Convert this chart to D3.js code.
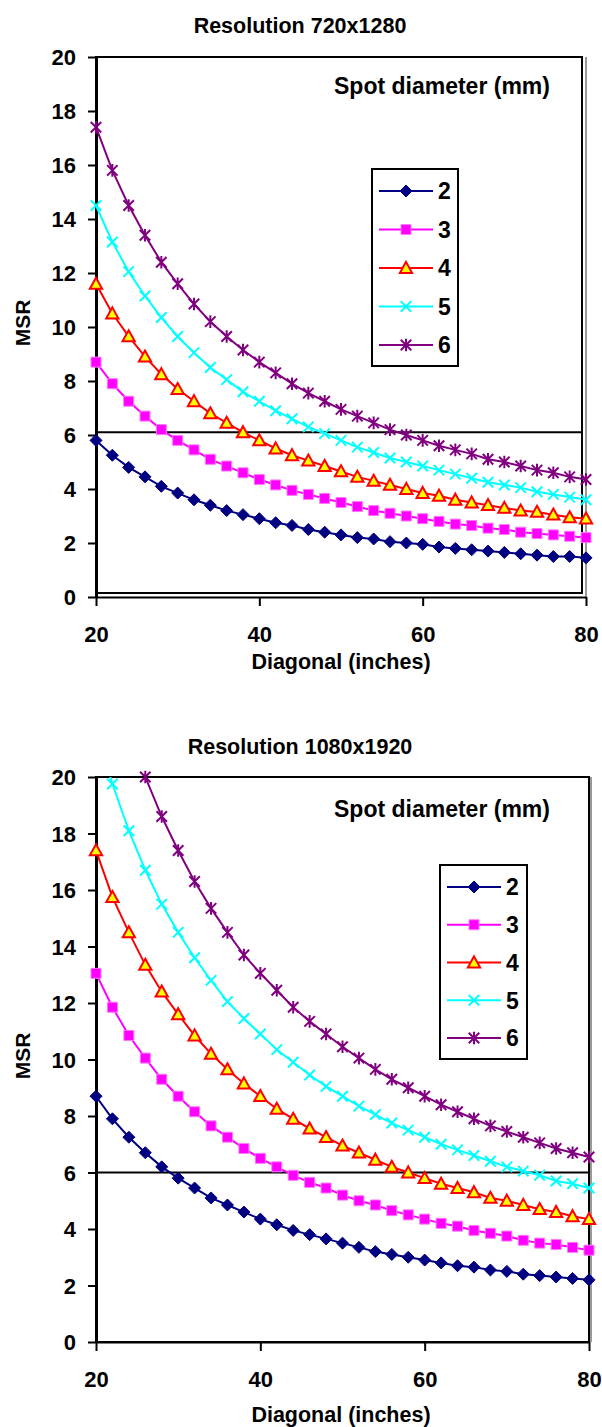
<!DOCTYPE html>
<html>
<head>
<meta charset="utf-8">
<script src="https://cdn.jsdelivr.net/npm/d3@7"></script>
<style>
  body { margin: 0; background: #fff; }
  svg { display: block; font-family: "Liberation Sans", Arial, sans-serif; font-weight: bold; }
</style>
</head>
<body>
<script>
// diagonal sizes (inches) on the x axis
var diagonals = [20, 22, 24, 26, 28, 30, 32, 34, 36, 38, 40, 42, 44, 46, 48, 50,
                 52, 54, 56, 58, 60, 62, 64, 66, 68, 70, 72, 74, 76, 78, 80];
var spotSizes = ["2", "3", "4", "5", "6"];
var yTicks = [0, 2, 4, 6, 8, 10, 12, 14, 16, 18, 20];
var xTicks = [20, 40, 60, 80];

// Resolution 720x1280, MSR per spot diameter
var msr720_2 = [5.8, 5.25, 4.8, 4.45, 4.1, 3.85, 3.6, 3.4, 3.2, 3.05, 2.9, 2.75, 2.65, 2.5, 2.4, 2.3,
                2.2, 2.15, 2.05, 2.0, 1.95, 1.85, 1.8, 1.75, 1.7, 1.65, 1.6, 1.55, 1.5, 1.5, 1.45];
var msr720_3 = [8.7, 7.9, 7.25, 6.7, 6.2, 5.8, 5.45, 5.1, 4.85, 4.6, 4.35, 4.15, 3.95, 3.8, 3.65, 3.5,
                3.35, 3.2, 3.1, 3.0, 2.9, 2.8, 2.7, 2.65, 2.55, 2.5, 2.4, 2.35, 2.3, 2.25, 2.2];
var msr720_4 = [11.6, 10.5, 9.65, 8.9, 8.25, 7.7, 7.25, 6.8, 6.45, 6.1, 5.8, 5.5, 5.25, 5.05, 4.85, 4.65,
                4.45, 4.3, 4.15, 4.0, 3.85, 3.75, 3.6, 3.5, 3.4, 3.3, 3.2, 3.15, 3.05, 2.95, 2.9];
var msr720_5 = [14.5, 13.15, 12.05, 11.15, 10.35, 9.65, 9.05, 8.5, 8.05, 7.6, 7.25, 6.9, 6.6, 6.3, 6.05, 5.8,
                5.55, 5.35, 5.15, 5.0, 4.85, 4.7, 4.55, 4.4, 4.25, 4.15, 4.05, 3.9, 3.8, 3.7, 3.6];
var msr720_6 = [17.4, 15.8, 14.5, 13.4, 12.4, 11.6, 10.85, 10.2, 9.65, 9.15, 8.7, 8.3, 7.9, 7.55, 7.25, 6.95,
                6.7, 6.45, 6.2, 6.0, 5.8, 5.6, 5.45, 5.3, 5.1, 5.0, 4.85, 4.7, 4.6, 4.45, 4.35];

// Resolution 1080x1920
var msr1080_2 = [8.7, 7.9, 7.25, 6.7, 6.2, 5.8, 5.45, 5.1, 4.85, 4.6, 4.35, 4.15, 3.95, 3.8, 3.65, 3.5,
                 3.35, 3.2, 3.1, 3.0, 2.9, 2.8, 2.7, 2.65, 2.55, 2.5, 2.4, 2.35, 2.3, 2.25, 2.2];
var msr1080_3 = [13.05, 11.85, 10.85, 10.05, 9.3, 8.7, 8.15, 7.65, 7.25, 6.85, 6.5, 6.2, 5.9, 5.65, 5.45, 5.2,
                 5.0, 4.85, 4.65, 4.5, 4.35, 4.2, 4.1, 3.95, 3.85, 3.75, 3.6, 3.5, 3.45, 3.35, 3.25];
var msr1080_4 = [17.4, 15.75, 14.5, 13.35, 12.4, 11.6, 10.85, 10.2, 9.65, 9.15, 8.7, 8.25, 7.9, 7.55, 7.25, 6.95,
                 6.7, 6.45, 6.2, 6.0, 5.8, 5.6, 5.45, 5.3, 5.1, 5.0, 4.85, 4.7, 4.6, 4.45, 4.35];
var msr1080_5 = [21.75, 19.75, 18.1, 16.7, 15.5, 14.5, 13.6, 12.8, 12.05, 11.45, 10.9, 10.35, 9.9, 9.45, 9.05, 8.7,
                 8.35, 8.05, 7.75, 7.5, 7.25, 7.0, 6.8, 6.6, 6.4, 6.2, 6.05, 5.9, 5.7, 5.6, 5.45];
var msr1080_6 = [26.1, 23.7, 21.75, 20.0, 18.6, 17.4, 16.3, 15.35, 14.5, 13.7, 13.05, 12.45, 11.85, 11.35, 10.9, 10.45,
                 10.05, 9.65, 9.3, 9.0, 8.7, 8.4, 8.15, 7.9, 7.65, 7.45, 7.25, 7.05, 6.85, 6.7, 6.55];

// marker shapes like the old Excel ones
var diamond = { draw: function(c, s) { var r = Math.sqrt(s) / 2; c.moveTo(0, -r); c.lineTo(r, 0); c.lineTo(0, r); c.lineTo(-r, 0); c.closePath(); } };
var square = { draw: function(c, s) { var r = Math.sqrt(s) / 2; c.rect(-r, -r, 2 * r, 2 * r); } };
var triangle = { draw: function(c, s) { var r = Math.sqrt(s) / 2; c.moveTo(0, -r); c.lineTo(r, r * 0.8); c.lineTo(-r, r * 0.8); c.closePath(); } };
var cross = { draw: function(c, s) { var r = Math.sqrt(s) / 2; c.moveTo(-r, -r); c.lineTo(r, r); c.moveTo(-r, r); c.lineTo(r, -r); } };
var star = { draw: function(c, s) { var r = Math.sqrt(s) / 2; c.moveTo(-r, -r); c.lineTo(r, r); c.moveTo(-r, r); c.lineTo(r, -r); c.moveTo(0, -r * 1.2); c.lineTo(0, r * 1.2); } };

var styles = [
    { color: "#000080", type: diamond, size: 144, fill: "#000080", stroke: "#000080", sw: 1 },
    { color: "#ff00ff", type: square, size: 100, fill: "#ff00ff", stroke: "#ff77ff", sw: 1 },
    { color: "#ff0000", type: triangle, size: 150, fill: "#ffff00", stroke: "#ff0000", sw: 2 },
    { color: "#00ffff", type: cross, size: 110, fill: "none", stroke: "#00ffff", sw: 2 },
    { color: "#800080", type: star, size: 110, fill: "none", stroke: "#800080", sw: 2 }
];

var charts = [
    { title: "Resolution 720x1280", titleY: 33, series: [msr720_2, msr720_3, msr720_4, msr720_5, msr720_6],
      left: 96, right: 586, top: 57, bottom: 597, frameR: 582, frameB: 593, shadowX: 586, ref: 6.1,
      spotY: 94, legend: { x: 372, y: 169, w: 86, h: 197 }, axisTitleY: 669, msrY: 323 },
    { title: "Resolution 1080x1920", titleY: 754, series: [msr1080_2, msr1080_3, msr1080_4, msr1080_5, msr1080_6],
      left: 96, right: 589, top: 777, bottom: 1342, frameR: 589, frameB: 1342, shadowX: 591, ref: 6.0,
      spotY: 817, legend: { x: 440, y: 865, w: 87, h: 194 }, axisTitleY: 1422, msrY: 1056 }
];

var svg = d3.select("body").append("svg").attr("width", 602).attr("height", 1427);

charts.forEach(function(ch, ci) {
    var x = d3.scaleLinear().domain([20, 80]).range([ch.left, ch.right]);
    var y = d3.scaleLinear().domain([0, 20]).range([ch.bottom, ch.top]);
    var g = svg.append("g");

    g.append("text").attr("x", 300).attr("y", ch.titleY).attr("text-anchor", "middle")
        .style("font-size", "21.5px").text(ch.title);

    // plot frame
    g.append("line").attr("x1", ch.shadowX).attr("x2", ch.shadowX).attr("y1", ch.top).attr("y2", ch.bottom)
        .attr("stroke", "#9a9a9a").attr("stroke-width", 2);
    g.append("rect").attr("x", ch.left).attr("y", ch.top).attr("width", ch.frameR - ch.left).attr("height", ch.frameB - ch.top)
        .attr("fill", "none").attr("stroke", "#000").attr("stroke-width", 2);

    // reference line
    g.append("line").attr("x1", ch.left).attr("x2", ch.frameR).attr("y1", y(ch.ref)).attr("y2", y(ch.ref))
        .attr("stroke", "#000").attr("stroke-width", 2);

    // axes
    var ya = g.append("g").attr("transform", "translate(" + ch.left + ",0)")
        .call(d3.axisLeft(y).tickValues(yTicks).tickSize(8).tickPadding(12).tickSizeOuter(0));
    ya.select(".domain").attr("stroke-width", 3);
    ya.selectAll(".tick line").attr("stroke-width", 2);
    ya.selectAll("text").style("font-size", "22px").attr("font-family", null).attr("dy", "0.36em");

    var xa = g.append("g").attr("transform", "translate(0," + ch.bottom + ")")
        .call(d3.axisBottom(x).tickValues(xTicks).tickSize(9).tickPadding(20).tickSizeOuter(0));
    xa.select(".domain").attr("stroke-width", 2);
    xa.selectAll(".tick line").attr("stroke-width", 2);
    xa.selectAll("text").style("font-size", "22px").attr("font-family", null);

    g.append("text").attr("x", 341).attr("y", ch.axisTitleY).attr("text-anchor", "middle")
        .style("font-size", "21.5px").text("Diagonal (inches)");
    g.append("text").attr("transform", "translate(30," + ch.msrY + ") rotate(-90)").attr("text-anchor", "middle")
        .style("font-size", "21px").text("MSR");

    // series
    var clipId = "clip" + ci;
    g.append("clipPath").attr("id", clipId).append("rect")
        .attr("x", ch.left - 10).attr("y", ch.top).attr("width", ch.right - ch.left + 20).attr("height", ch.bottom - ch.top);
    var line = d3.line().x(function(d, i) { return x(diagonals[i]); }).y(function(d) { return y(d); });

    ch.series.forEach(function(vals, si) {
        var st = styles[si];
        g.append("path").datum(vals).attr("d", line).attr("fill", "none")
            .attr("stroke", st.color).attr("stroke-width", 2).attr("clip-path", "url(#" + clipId + ")");
        var pts = vals.map(function(v, i) { return { x: diagonals[i], v: v }; }).filter(function(p) { return p.v <= 20; });
        g.selectAll(null).data(pts).enter().append("path")
            .attr("transform", function(p) { return "translate(" + x(p.x) + "," + y(p.v) + ")"; })
            .attr("d", d3.symbol().type(st.type).size(st.size))
            .attr("fill", st.fill).attr("stroke", st.stroke).attr("stroke-width", st.sw);
    });

    // legend
    g.append("text").attr("x", 442).attr("y", ch.spotY).attr("text-anchor", "middle")
        .style("font-size", "23px").text("Spot diameter (mm)");
    var L = ch.legend;
    g.append("rect").attr("x", L.x).attr("y", L.y).attr("width", L.w).attr("height", L.h)
        .attr("fill", "#fff").attr("stroke", "#000").attr("stroke-width", 2);
    var ly = d3.scalePoint().domain(spotSizes).range([L.y + 22, L.y + L.h - 21]);
    spotSizes.forEach(function(s, si) {
        var st = styles[si];
        g.append("line").attr("x1", L.x + 7).attr("x2", L.x + 61).attr("y1", ly(s)).attr("y2", ly(s))
            .attr("stroke", st.color).attr("stroke-width", 2);
        g.append("path").attr("transform", "translate(" + (L.x + 34) + "," + ly(s) + ")")
            .attr("d", d3.symbol().type(st.type).size(st.size))
            .attr("fill", st.fill).attr("stroke", st.stroke).attr("stroke-width", st.sw);
        g.append("text").attr("x", L.x + 66).attr("y", ly(s)).attr("dy", "0.36em")
            .style("font-size", "23px").text(s);
    });
});
</script>
</body>
</html>
